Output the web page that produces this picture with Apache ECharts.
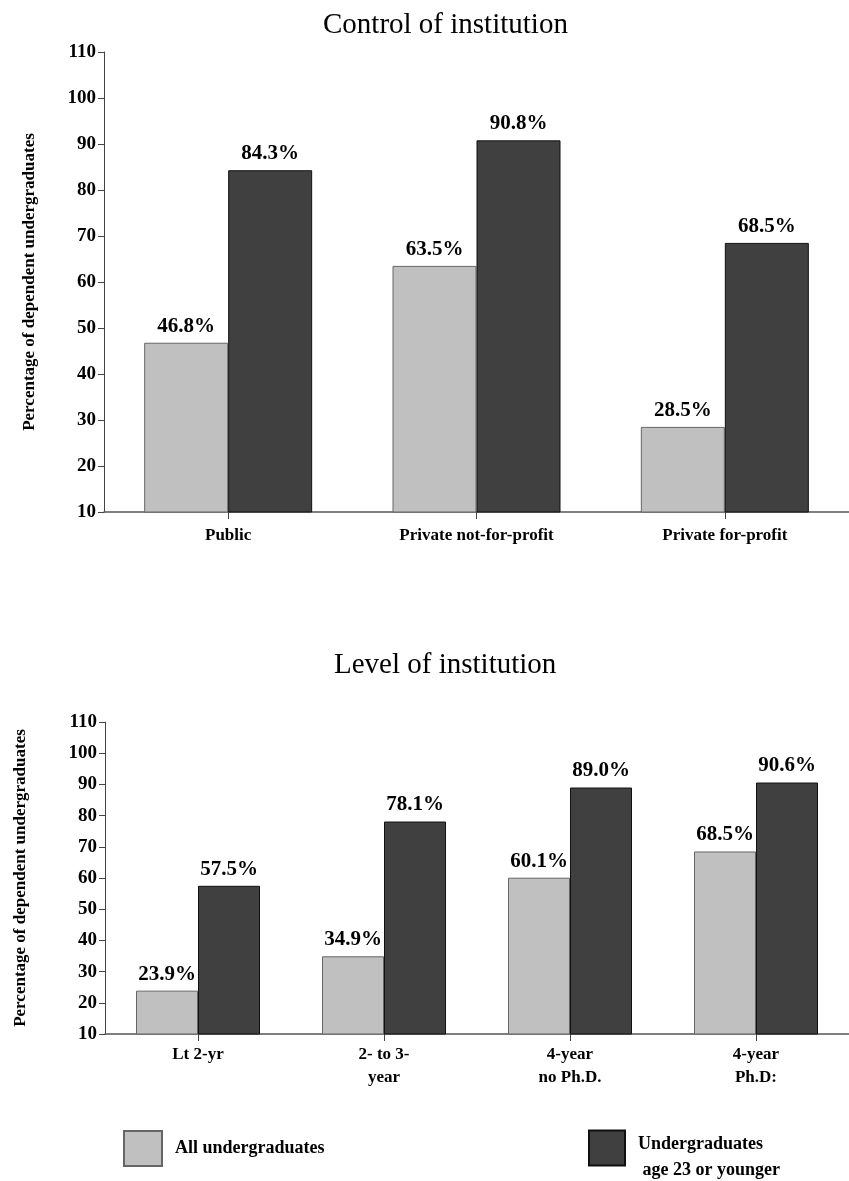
<!DOCTYPE html>
<html>
<head>
<meta charset="utf-8">
<title>Dependent undergraduates by institution</title>
<script src="https://cdn.jsdelivr.net/npm/echarts@6/dist/echarts.min.js"></script>
<style>
  html, body { margin: 0; padding: 0; background: #ffffff; }
  #chart { width: 849px; height: 1181px; }
</style>
</head>
<body>
<div id="chart"></div>
<script>
// Panel 1: control of institution
const controlCategories = ['Public', 'Private not-for-profit', 'Private for-profit'];
const controlAll = [46.8, 63.5, 28.5];
const controlYoung = [84.3, 90.8, 68.5];

// Panel 2: level of institution
const levelCategories = ['Lt 2-yr', '2- to 3-\nyear', '4-year\nno Ph.D.', '4-year\nPh.D:'];
const levelAll = [23.9, 34.9, 60.1, 68.5];
const levelYoung = [57.5, 78.1, 89.0, 90.6];

const seriesNames = ['All undergraduates', 'Undergraduates\n age 23 or younger'];
const yTicks = { min: 10, max: 110, interval: 10 };
const yAxisName = 'Percentage of dependent undergraduates';

const FONT = 'Liberation Serif';
const LIGHT = '#c0c0c0';
const DARK = '#404040';

function valueAxis(gridIndex, nameGap) {
  return {
    type: 'value', gridIndex,
    min: yTicks.min, max: yTicks.max, interval: yTicks.interval,
    name: yAxisName, nameLocation: 'middle', nameRotate: 90, nameGap,
    nameTextStyle: { fontFamily: FONT, fontWeight: 'bold', fontSize: 17, color: '#000' },
    axisLine: { show: true, lineStyle: { color: '#444', width: 1 } },
    axisTick: { show: true, length: 6, lineStyle: { color: '#444' } },
    axisLabel: { fontFamily: FONT, fontWeight: 'bold', fontSize: 19, color: '#000', margin: 8 },
    splitLine: { show: false }
  };
}

function categoryAxis(gridIndex, data, margin) {
  return {
    type: 'category', gridIndex, data,
    axisLine: { show: true, lineStyle: { color: '#555', width: 1.5 } },
    axisTick: { show: true, alignWithLabel: true, length: 7, lineStyle: { color: '#444' } },
    axisLabel: { fontFamily: FONT, fontWeight: 'bold', fontSize: 17, color: '#000', margin, lineHeight: 23, interval: 0 }
  };
}

function barSeries(name, data, idx, color, border, width) {
  return {
    type: 'bar', name, data,
    xAxisIndex: idx, yAxisIndex: idx,
    barWidth: width, barGap: '0%',
    itemStyle: { color, borderColor: border, borderWidth: 1 },
    label: {
      show: true, position: 'top', distance: 6,
      formatter: p => p.value.toFixed(1) + '%',
      fontFamily: FONT, fontWeight: 'bold', fontSize: 21, color: '#000'
    },
    emphasis: { disabled: true },
    animation: false
  };
}

// legend labels: a text token with a left inset, and a blank spacer row so the
// two-line caption sits a little lower than its swatch
const legendRich = {
  t: { fontFamily: FONT, fontWeight: 'bold', fontSize: 18, color: '#000', lineHeight: 26, padding: [0, 0, 0, 8] },
  s: { fontSize: 10, lineHeight: 18 }
};
const legendText = { fontFamily: FONT, fontWeight: 'bold', fontSize: 18, color: '#000', rich: legendRich };

const option = {
  backgroundColor: '#ffffff',
  animation: false,
  title: [
    { text: 'Control of institution', left: 318, top: 6,
      textStyle: { fontFamily: FONT, fontWeight: 'normal', fontSize: 29, color: '#000' } },
    { text: 'Level of institution', left: 329, top: 646,
      textStyle: { fontFamily: FONT, fontWeight: 'normal', fontSize: 29, color: '#000' } }
  ],
  legend: [
    { data: [{ name: seriesNames[0], icon: 'rect' }], left: 123, top: 1130, padding: 0,
      itemWidth: 38, itemHeight: 35, textStyle: legendText, selectedMode: false,
      formatter: name => '{t|' + name + '}' },
    { data: [{ name: seriesNames[1], icon: 'rect' }], left: 588, top: 1117, padding: 0,
      itemWidth: 36, itemHeight: 35, textStyle: legendText, selectedMode: false,
      formatter: name => '{s| }\n' + name.split('\n').map(s => '{t|' + s + '}').join('\n') }
  ],
  grid: [
    { left: 104, top: 52, right: -12, height: 460 },
    { left: 105, top: 722, right: 0, height: 312 }
  ],
  xAxis: [categoryAxis(0, controlCategories, 12), categoryAxis(1, levelCategories, 9)],
  yAxis: [valueAxis(0, 66), valueAxis(1, 76)],
  series: [
    barSeries(seriesNames[0], controlAll, 0, LIGHT, '#666', 84),
    barSeries(seriesNames[1], controlYoung, 0, DARK, '#111', 84),
    barSeries(seriesNames[0], levelAll, 1, LIGHT, '#666', 62),
    barSeries(seriesNames[1], levelYoung, 1, DARK, '#111', 62)
  ]
};

const chart = echarts.init(document.getElementById('chart'), null, { renderer: 'canvas' });
chart.setOption(option);
</script>
</body>
</html>
